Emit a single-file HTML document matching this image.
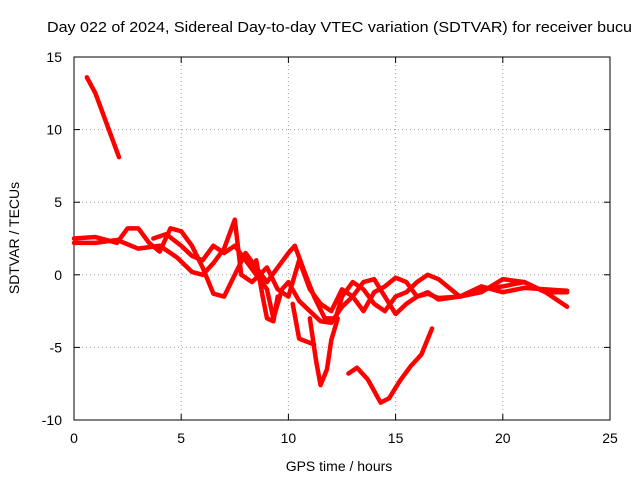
<!DOCTYPE html>
<html><head><meta charset="utf-8"><style>
body{margin:0;background:#fff;}
svg{display:block;font-family:"Liberation Sans",sans-serif;}
</style></head><body>
<svg id="chart" width="640" height="480">
<text x="47" y="32" font-size="15" textLength="585" lengthAdjust="spacingAndGlyphs">Day 022 of 2024, Sidereal Day-to-day VTEC variation (SDTVAR) for receiver bucu</text>
<g id="grid"></g><g id="axes"></g><g id="series"></g>
<text x="339" y="471" font-size="14" text-anchor="middle">GPS time / hours</text>
<text transform="translate(19,238) rotate(-90)" font-size="14" text-anchor="middle">SDTVAR / TECUs</text>
</svg>
<script>
const xTicks=[0,5,10,15,20,25];
const yTicks=[-10,-5,0,5,10,15];
const trackA=[[0.6,13.6],[1.0,12.5],[1.5,10.5],[2.1,8.1]];
const track1=[[0,2.5],[1,2.6],[2,2.2],[2.5,3.2],[3,3.2],[3.5,2.2],[4,1.6],[4.5,3.2],[5,3.0],[5.5,2],[6,0.5],[6.5,-1.3],[7,-1.5],[7.5,0],[8,1.5],[8.5,0.5],[9,-0.5],[9.5,0.5],[10,1.5],[10.3,2],[10.8,0],[11.2,-1.5],[11.7,-3],[12.2,-3],[12.5,-1.5],[13,-0.5],[13.5,-1],[14,-2],[14.5,-2.5],[15,-1.5],[15.5,-1.2],[16,-0.5],[16.5,0],[17,-0.3],[18,-1.5],[19,-1.2],[20,-0.3],[21,-0.5],[22,-1.2],[23,-1.2]];
const track2=[[0,2.2],[1,2.2],[2,2.4],[3,1.8],[4,2.0],[4.8,1.2],[5.5,0.2],[6,0],[6.5,0.8],[7,1.8],[7.5,3.8],[7.8,0],[8.3,-0.5],[9,0.5],[9.5,-1],[10,-1.5],[10.5,1],[11,-1],[11.5,-2],[12,-2.5],[12.5,-1],[13,-1.5],[13.5,-0.5],[14,-0.3],[14.5,-1.5],[15,-2.7],[15.5,-2],[16,-1.5],[16.5,-1.2],[17,-1.7],[18,-1.5],[19,-1.0],[20,-0.8],[21,-0.5],[22,-1.2],[23,-2.2]];
const track3=[[3.7,2.5],[4.3,2.8],[5,2],[5.5,1.3],[6,1],[6.5,2],[7,1.5],[7.5,2],[8,1],[8.5,0],[9,-1],[9.3,-3],[9.7,-1],[10,-0.5],[10.5,-1.8],[11,-2.5],[11.5,-3.2],[12,-3.3],[12.5,-2.2],[13,-1.5],[13.5,-2.5],[14,-1.2],[14.5,-0.8],[15,-0.2],[15.5,-0.5],[16,-1.5],[16.5,-1.3],[17,-1.6],[18,-1.5],[19,-0.8],[20,-1.2],[21,-0.9],[22,-1.0],[23,-1.1]];
const track4=[[10.2,-2],[10.5,-4.4],[11.2,-4.8]];
const track5=[[11,-3],[11.3,-6],[11.5,-7.6],[11.8,-6.5],[12,-4.5],[12.3,-3]];
const track6=[[12.8,-6.8],[13.2,-6.4],[13.7,-7.2],[14.3,-8.8],[14.7,-8.5],[15.2,-7.3],[15.7,-6.3],[16.2,-5.5],[16.7,-3.7]];
const track7=[[8.5,1],[8.8,-1.5],[9,-3],[9.3,-3.2],[9.5,-1.5]];
const tracks=[trackA,track1,track2,track3,track4,track5,track6,track7];
const L=74,R=610,T=57,B=420;
const sx=v=>L+(v-0)/25*(R-L);
const sy=v=>B-(v+10)/25*(B-T);
const NS="http://www.w3.org/2000/svg";
function mk(tag,attrs,parent){const e=document.createElementNS(NS,tag);for(const k in attrs)e.setAttribute(k,attrs[k]);document.getElementById(parent).appendChild(e);return e;}
xTicks.forEach(t=>{
 const x=sx(t);
 if(t>0&&t<25){const g=mk('line',{x1:x,x2:x,y1:T,y2:B,stroke:'#a0a0a0','stroke-dasharray':'1,3'},'grid');
 
 }
 mk('line',{x1:x,x2:x,y1:B,y2:B-6,stroke:'#000'},'axes');
 mk('line',{x1:x,x2:x,y1:T,y2:T+6,stroke:'#000'},'axes');
 const tx=mk('text',{x:x,y:B+23,'font-size':14,'text-anchor':'middle'},'axes');tx.textContent=t;
 
 
});
yTicks.forEach(t=>{
 const y=sy(t);
 if(t>-10&&t<15){const g=mk('line',{x1:L,x2:R,y1:y,y2:y,stroke:'#a0a0a0','stroke-dasharray':'1,3'},'grid');
 
 }
 mk('line',{x1:L,x2:L+6,y1:y,y2:y,stroke:'#000'},'axes');
 mk('line',{x1:R,x2:R-6,y1:y,y2:y,stroke:'#000'},'axes');
 const tx=mk('text',{x:L-12,y:y+5,'font-size':14,'text-anchor':'end'},'axes');tx.textContent=t;
 
 
});
const fr=mk('rect',{x:L,y:T,width:R-L,height:B-T,fill:'none',stroke:'#000'},'axes');


tracks.forEach(tr=>{
 const p=mk('polyline',{points:tr.map(d=>sx(d[0])+','+sy(d[1])).join(' '),fill:'none',stroke:'#ff0000','stroke-width':4.5,'stroke-linejoin':'round','stroke-linecap':'round'},'series');
 
 
});
</script>
</body></html>
